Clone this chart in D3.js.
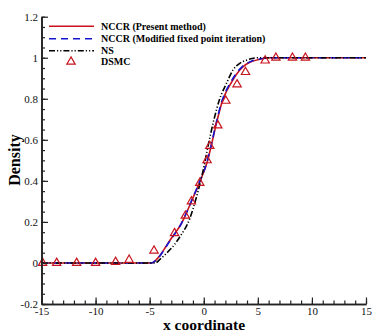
<!DOCTYPE html>
<html>
<head>
<meta charset="utf-8">
<script src="https://cdn.jsdelivr.net/npm/d3@7"></script>
<style>
  body { margin: 0; background: #fff; }
  svg { display: block; font-family: "Liberation Serif", "Times New Roman", serif; }
</style>
</head>
<body>
<svg id="chart"></svg>
<script>
// NCCR (present method)
const nccrX = [-15, -4.8, -4.4, -4.0, -3.5, -3.15, -2.7, -2.2, -1.76, -1.14, -0.37, 0.31, 0.71, 1.17, 1.64, 2.0, 2.4, 3.03, 3.64, 4.26, 5.2, 6.2, 15]
const nccrY = [0, 0, 0.015, 0.04, 0.08, 0.108, 0.142, 0.18, 0.225, 0.3, 0.395, 0.49, 0.575, 0.68, 0.775, 0.825, 0.865, 0.92, 0.957, 0.978, 0.993, 1, 1]
// NCCR (modified fixed point iteration)
const modX = [-15, -4.8, -4.4, -4.0, -3.5, -3.15, -2.7, -2.2, -1.76, -1.14, -0.37, 0.31, 0.71, 1.17, 1.64, 2.0, 2.4, 3.03, 3.64, 4.26, 5.2, 6.2, 15]
const modY = [0, 0, 0.014, 0.038, 0.078, 0.106, 0.14, 0.18, 0.226, 0.302, 0.398, 0.495, 0.58, 0.686, 0.782, 0.832, 0.872, 0.925, 0.96, 0.98, 0.994, 1, 1]
// NS
const nsX = [-15, -4.5, -4.0, -3.45, -2.7, -2.2, -1.3, -0.68, -0.06, 0.4, 0.95, 1.48, 2.1, 2.7, 3.33, 3.95, 5.0, 15]
const nsY = [0, 0, 0.02, 0.047, 0.09, 0.128, 0.215, 0.32, 0.45, 0.57, 0.7, 0.8, 0.875, 0.94, 0.973, 0.988, 1, 1]
// DSMC
const dsmcX = [-14.9, -13.6, -11.75, -10.0, -8.15, -6.9, -4.6, -2.7, -1.7, -1.14, -0.37, 0.31, 0.56, 1.3, 2.04, 3.08, 3.86, 5.68, 6.67, 8.2, 9.4]
const dsmcY = [0, 0, 0, 0, 0.005, 0.015, 0.06, 0.145, 0.23, 0.3, 0.39, 0.5, 0.57, 0.67, 0.79, 0.87, 0.93, 0.986, 1, 1, 1]

const xTicks = [-15, -10, -5, 0, 5, 10, 15]
const yTicks = [-0.2, 0, 0.2, 0.4, 0.6, 0.8, 1, 1.2]
const legendNames = ['NCCR (Present method)', 'NCCR (Modified fixed point iteration)', 'NS', 'DSMC']

let width = 374
let height = 332
let svg = d3.select('#chart').attr('width', width).attr('height', height)

let x = d3.scaleLinear().domain([-15, 15]).range([41.5, 366])
let y = d3.scaleLinear().domain([-0.2, 1.2]).range([304, 16.7])

let red = '#c8141e'
let blue = '#1414d2'

let line = d3.line()
  .x(d => x(d[0]))
  .y(d => y(d[1]))
  .curve(d3.curveMonotoneX)

let series = [
  { pts: d3.zip(nccrX, nccrY), color: red, dash: null },
  { pts: d3.zip(modX, modY), color: blue, dash: '7,5' },
  { pts: d3.zip(nsX, nsY), color: '#000', dash: '6,2,1.2,2,1.2,2' }
]

svg.append('g')
  .selectAll('path')
  .data(series)
  .enter()
  .append('path')
  .attr('d', d => line(d.pts))
  .attr('fill', 'none')
  .attr('stroke', d => d.color)
  .attr('stroke-width', 1.6)
  .attr('stroke-dasharray', d => d.dash)

let tri = d3.symbol(d3.symbolTriangle, 30)

svg.append('g')
  .selectAll('path')
  .data(d3.zip(dsmcX, dsmcY))
  .enter()
  .append('path')
  .attr('d', tri)
  .attr('transform', d => 'translate(' + x(d[0]) + ',' + y(d[1]) + ')')
  .attr('fill', 'none')
  .attr('stroke', red)
  .attr('stroke-width', 1.2)

// axes: inward major + minor ticks
let fmt = d => String(+d.toFixed(1))

svg.append('g')
  .attr('transform', 'translate(0,304)')
  .call(d3.axisBottom(x).ticks(30).tickSizeInner(-3.5).tickSizeOuter(0).tickFormat(''))
svg.append('g')
  .attr('transform', 'translate(0,304)')
  .call(d3.axisBottom(x).tickValues(xTicks).tickSizeInner(-6.5).tickSizeOuter(0).tickPadding(3).tickFormat(fmt))

svg.append('g')
  .attr('transform', 'translate(41.5,0)')
  .call(d3.axisLeft(y).ticks(28).tickSizeInner(-3.5).tickSizeOuter(0).tickFormat(''))
svg.append('g')
  .attr('transform', 'translate(41.5,0)')
  .call(d3.axisLeft(y).tickValues(yTicks).tickSizeInner(-6.5).tickSizeOuter(0).tickPadding(3.5).tickFormat(fmt))

svg.selectAll('.domain').attr('stroke', '#222').attr('stroke-width', 1.6)
svg.selectAll('.tick line').attr('stroke', '#222').attr('stroke-width', 1.2)
svg.selectAll('.tick text')
  .attr('font-family', '"Liberation Serif", "Times New Roman", serif')
  .attr('font-size', 11)
  .attr('fill', '#111')

// axis titles
svg.append('text')
  .text('x coordinate')
  .attr('x', 204)
  .attr('y', 329.5)
  .attr('text-anchor', 'middle')
  .attr('font-weight', 'bold')
  .attr('font-size', 15.5)

svg.append('text')
  .text('Density')
  .attr('transform', 'translate(20,160) rotate(-90)')
  .attr('text-anchor', 'middle')
  .attr('font-weight', 'bold')
  .attr('font-size', 16)

// legend
let legY = [26.3, 38.7, 50.7, 61.7]
let leg = svg.append('g')
legendNames.forEach((name, i) => {
  if (i < 3) {
    leg.append('line')
      .attr('x1', 49).attr('x2', 94)
      .attr('y1', legY[i]).attr('y2', legY[i])
      .attr('stroke', series[i].color)
      .attr('stroke-width', 1.6)
      .attr('stroke-dasharray', series[i].dash)
  } else {
    leg.append('path')
      .attr('d', tri)
      .attr('transform', 'translate(71,' + legY[i] + ')')
      .attr('fill', 'none')
      .attr('stroke', red)
      .attr('stroke-width', 1.2)
  }
  leg.append('text')
    .text(name)
    .attr('x', 101)
    .attr('y', legY[i])
    .attr('dy', '0.33em')
    .attr('font-weight', 'bold')
    .attr('font-size', 10)
})
</script>
</body>
</html>
